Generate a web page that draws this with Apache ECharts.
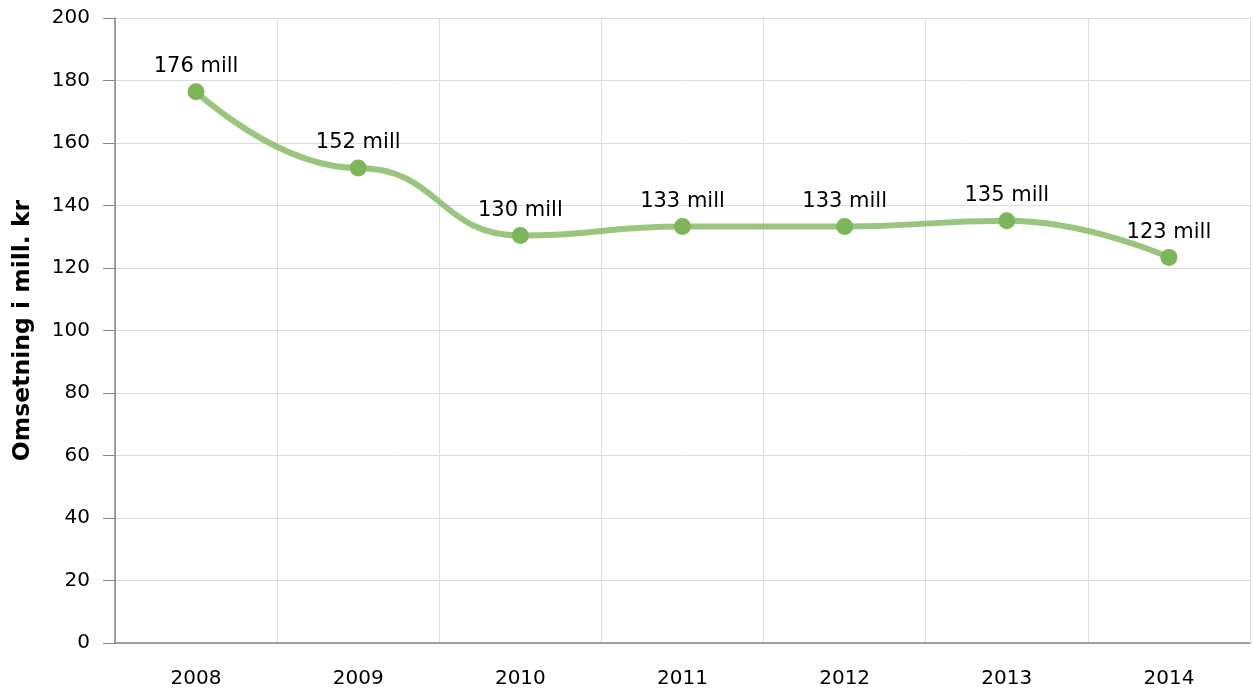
<!DOCTYPE html>
<html>
<head>
	<meta charset="utf-8">
	<title>Omsetning</title>
	<script src="https://cdn.jsdelivr.net/npm/echarts@6/dist/echarts.min.js"></script>
</head>
<body style="margin:0">
	<div id="main" style="width: 1253px;height: 691px;"></div>
	<script>
		// data
		var years = ['2008', '2009', '2010', '2011', '2012', '2013', '2014'];
		var omsetning = [176.4, 152, 130.4, 133.3, 133.3, 135.1, 123.4];
		var yTicks = [0, 20, 40, 60, 80, 100, 120, 140, 160, 180, 200];

		var myCharts = echarts.init(document.getElementById('main'));
		var font = 'Verdana, "DejaVu Sans", sans-serif';

		var option = {
			animation: false,
			grid: { left: 115, right: 3, top: 18, bottom: 48, outerBoundsMode: 'none', containLabel: false },
			xAxis: {
				type: 'category',
				data: years,
				boundaryGap: true,
				axisLine: { lineStyle: { color: '#868686', width: 1.5 } },
				axisTick: { alignWithLabel: true, length: 9, lineStyle: { color: '#868686' } },
				axisLabel: { color: '#000', fontSize: 20, fontFamily: font, margin: 26 },
				splitLine: { show: true, lineStyle: { color: '#dcdcdc' } }
			},
			yAxis: {
				type: 'value',
				min: yTicks[0],
				max: yTicks[yTicks.length - 1],
				interval: yTicks[1] - yTicks[0],
				name: 'Omsetning i mill. kr',
				nameLocation: 'middle',
				nameGap: 80,
				nameTextStyle: { color: '#000', fontSize: 23.5, fontWeight: 'bold', fontFamily: font },
				axisLine: { show: true, lineStyle: { color: '#868686', width: 1.5 } },
				axisTick: { show: true, length: 12, lineStyle: { color: '#868686' } },
				axisLabel: { color: '#000', fontSize: 20, fontFamily: font, margin: 25 },
				splitLine: { show: true, lineStyle: { color: '#dcdcdc' } }
			},
			series: [{
				type: 'line',
				data: omsetning,
				smooth: 0.5,
				smoothMonotone: 'x',
				symbol: 'circle',
				symbolSize: 17,
				lineStyle: { color: 'rgba(125,181,91,0.78)', width: 6 },
				itemStyle: { color: '#7db55b' },
				label: {
					show: true,
					position: 'top',
					distance: 6,
					color: '#000',
					fontSize: 21,
					fontFamily: font,
					formatter: function (p) { return Math.round(p.value) + ' mill'; }
				}
			}]
		};

		myCharts.setOption(option);
	</script>
</body>
</html>
